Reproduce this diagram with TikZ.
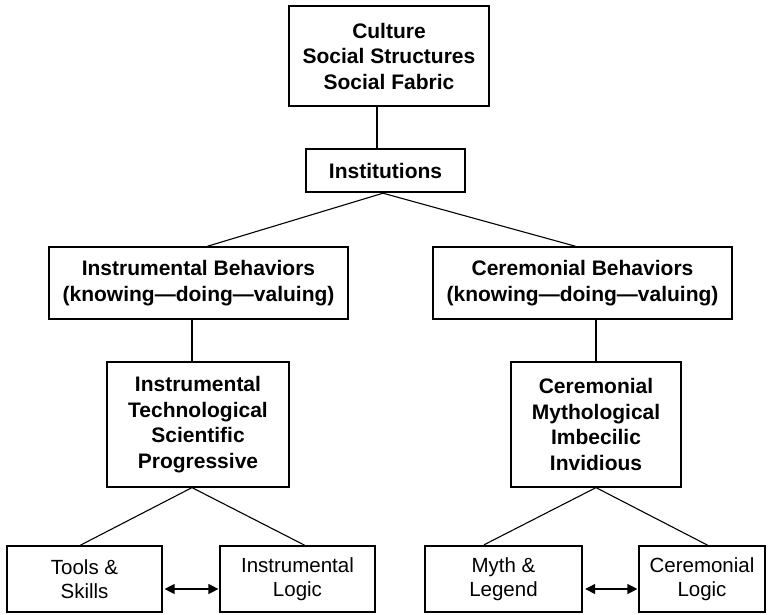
\documentclass[tikz,border=0pt]{standalone}
\usepackage{fontspec}
\setmainfont{Liberation Sans}
\usetikzlibrary{arrows.meta}
\begin{document}
\begin{tikzpicture}[x=1pt,y=-1pt,
  box/.style={draw, line width=1.2pt, align=center, inner sep=0pt, anchor=center},
  boldbox/.style={box, font=\fontsize{21}{25.5}\selectfont\bfseries},
  plainbox/.style={box, font=\fontsize{20.5}{24}\selectfont},
  heavy/.style={line width=2.4pt},
  link/.style={line width=1.1pt},
  twoway/.style={line width=1.3pt, {Triangle[length=10pt,width=10pt]}-{Triangle[length=10pt,width=10pt]}}
]
\useasboundingbox (0,0) rectangle (768,614);

% upper levels
\node[boldbox, minimum width=200pt, minimum height=100pt] (top) at (389,56)
  {Culture\\Social Structures\\Social Fabric};
\node[boldbox, heavy, minimum width=159pt, minimum height=43pt] (inst) at (385.5,170.5)
  {Institutions};

% behaviours
\node[boldbox, minimum width=299pt, minimum height=72pt] (ib) at (198.5,283)
  {Instrumental Behaviors\\(knowing—doing—valuing)};
\node[boldbox, minimum width=299pt, minimum height=72pt] (cb) at (582.5,283)
  {Ceremonial Behaviors\\(knowing—doing—valuing)};

% characteristics
\node[boldbox, minimum width=182pt, minimum height=125pt] (it) at (198,424.5)
  {Instrumental\\Technological\\Scientific\\Progressive};
\node[boldbox, minimum width=170pt, minimum height=125pt] (ct) at (596,424.5)
  {Ceremonial\\Mythological\\Imbecilic\\Invidious};

% bottom row
\node[plainbox, minimum width=155pt, minimum height=66pt] (tools) at (84.5,579)
  {Tools \&\\Skills};
\node[plainbox, minimum width=155pt, minimum height=66pt] (ilogic) at (297.5,579)
  {Instrumental\\Logic};
\node[plainbox, heavy, minimum width=157pt, minimum height=66pt] (myth) at (503.5,579)
  {Myth \&\\Legend};
\node[plainbox, minimum width=126pt, minimum height=66pt] (clogic) at (702,579)
  {Ceremonial\\Logic};

% connectors
\draw[link] ([xshift=-12pt]top.south) -- ([xshift=-8.5pt]inst.north);
\draw[link] ([xshift=-2.5pt]inst.south) -- ([xshift=8.5pt]ib.north);
\draw[link] ([xshift=-2.5pt]inst.south) -- ([xshift=-6.5pt]cb.north);
\draw[link] ([xshift=-6.5pt]ib.south) -- ([xshift=-6pt]it.north);
\draw[link] ([xshift=13.5pt]cb.south) -- (ct.north);
\draw[link] ([xshift=-6pt]it.south) -- ([xshift=-4.5pt]tools.north);
\draw[link] ([xshift=-6pt]it.south) -- ([xshift=7.5pt]ilogic.north);
\draw[link] (ct.south) -- ([xshift=-19.5pt]myth.north);
\draw[link] (ct.south) -- ([xshift=6pt]clogic.north);

% two-way arrows
\draw[twoway] ([yshift=-10pt,xshift=2pt]tools.east) -- ([yshift=-10pt,xshift=-1pt]ilogic.west);
\draw[twoway] ([yshift=-10pt,xshift=2pt]myth.east) -- ([yshift=-10pt,xshift=-1pt]clogic.west);
\end{tikzpicture}
\end{document}
